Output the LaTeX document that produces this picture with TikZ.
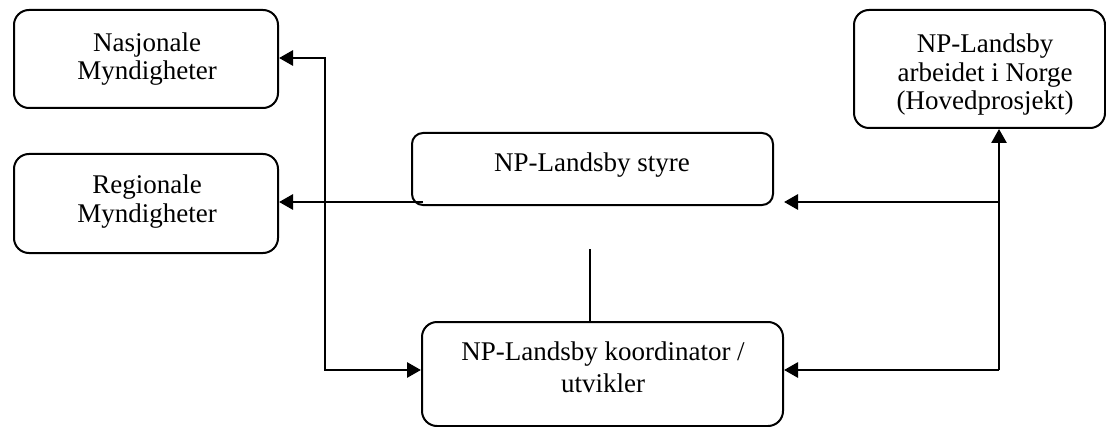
\documentclass[tikz,border=0pt]{standalone}
\usepackage{fontspec}
\setmainfont{Liberation Serif}
\usetikzlibrary{arrows.meta}
\begin{document}
\begin{tikzpicture}[x=0.5pt,y=-0.5pt,
  box/.style={draw,line width=1pt,rounded corners=7.5pt,inner sep=0pt},
  txt/.style={anchor=base,inner sep=0pt,font=\fontsize{13.5}{14}\selectfont},
  conn/.style={line width=1.4pt},
  tip/.style={-{Triangle[length=7pt,width=7.5pt]}},
  tips/.style={{Triangle[length=7pt,width=7.5pt]}-{Triangle[length=7pt,width=7.5pt]}},
  thinline/.style={line width=0.7pt}]
\useasboundingbox (0,0) rectangle (1106,427);
% boxes
\node[box,minimum width=132pt,minimum height=49pt] (nas) at (146,59) {};
\node[box,minimum width=132pt,minimum height=49.5pt] (reg) at (146,203.5) {};
\node[box,rounded corners=5.5pt,minimum width=180.5pt,minimum height=36pt] (styre) at (592.5,169) {};
\node[box,minimum width=125.5pt,minimum height=59pt] (top) at (979.5,69) {};
\node[box,minimum width=180.5pt,minimum height=52pt] (koord) at (602.5,374) {};
% texts
\node[txt] (nas1) at (147,52) {Nasjonale};
\node[txt] (nas2) at (147,80) {Myndigheter};
\node[txt] (reg1) at (147,193) {Regionale};
\node[txt] (reg2) at (147,222) {Myndigheter};
\node[txt] (sty1) at (592,172) {NP-Landsby styre};
\node[txt] (top1) at (985,53) {NP-Landsby};
\node[txt] (top2) at (985,82) {arbeidet i Norge};
\node[txt] (top3) at (985,110) {(Hovedprosjekt)};
\node[txt] (ko1) at (603,360) {NP-Landsby koordinator /};
\node[txt] (ko2) at (603,392) {utvikler};
% connector points
\coordinate (L1) at (325,58);
\coordinate (L2) at (325,370);
\coordinate (S1) at (423,202);
\coordinate (S2) at (784,202);
\coordinate (R1) at (999,202);
\coordinate (R2) at (999,370);
\coordinate (K1) at (590,249);
% connectors
\draw[conn,tips] (nas.east |- L1) -- (L1) -- (L2) -- (koord.west |- L2);
\draw[conn,tip] (S1) -- (reg.east |- S1);
\draw[conn,tip] (R2) -- (top.south -| R2);
\draw[conn,tip] (R1) -- (S2);
\draw[conn,tip] (R2) -- (koord.east |- R2);
\draw[thinline] (koord.north -| K1) -- (K1);
\end{tikzpicture}
\end{document}
